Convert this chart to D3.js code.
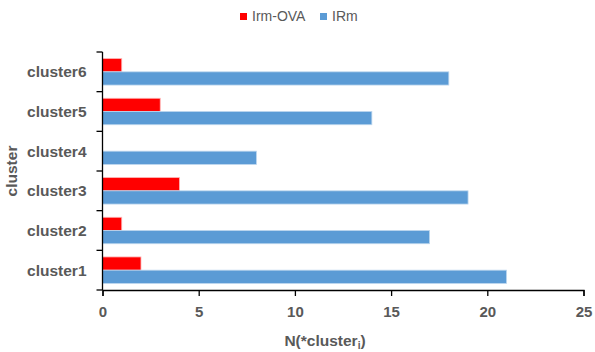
<!DOCTYPE html>
<html>
<head>
<meta charset="utf-8">
<script src="https://cdn.jsdelivr.net/npm/d3@7"></script>
<style>
  html, body { margin: 0; padding: 0; background: #fff; }
  svg text { font-family: "Liberation Sans", Arial, sans-serif; fill: #595959; }
</style>
</head>
<body>
<svg id="chart" width="595" height="352"></svg>
<script>
// Cluster counts per group
const categories = ["cluster1", "cluster2", "cluster3", "cluster4", "cluster5", "cluster6"];
const seriesNames = ["Irm-OVA", "IRm"];
const irmOva = [2, 1, 4, 0, 3, 1];
const irm = [21, 17, 19, 8, 14, 18];
const xTicks = [0, 5, 10, 15, 20, 25];
const colors = ["#FF0000", "#5B9BD5"];

const svg = d3.select("#chart");
const margin = { left: 102.5, right: 11.5, top: 52, bottom: 62 };
const W = 595, H = 352;

const x = d3.scaleLinear().domain([0, 25]).range([margin.left, W - margin.right]);
// cluster1 at the bottom
const y = d3.scaleBand().domain(categories.slice().reverse()).range([margin.top, H - margin.bottom]).paddingInner(0).paddingOuter(0);
const inner = d3.scaleBand().domain(seriesNames).range([0, y.bandwidth()]).paddingInner(0).paddingOuter(0.5);

const rows = categories.map((c, i) => ({ cat: c, vals: [irmOva[i], irm[i]] }));

const g = svg.append("g");
const groups = g.selectAll("g.row").data(rows).join("g")
  .attr("transform", d => `translate(0,${y(d.cat)})`);

groups.selectAll("rect").data(d => d.vals.map((v, k) => ({ v, k })))
  .join("rect")
  .attr("x", x(0))
  .attr("y", d => inner(seriesNames[d.k]))
  .attr("width", d => x(d.v) - x(0))
  .attr("height", inner.bandwidth())
  .attr("fill", d => colors[d.k])
  .attr("stroke", d => d.k === 0 ? "#ffb3b3" : "#bcd6ee")
  .attr("stroke-width", 0.8)
  .attr("display", d => d.v === 0 ? "none" : null);

// x axis
const xAxis = svg.append("g")
  .attr("transform", `translate(0,${H - margin.bottom})`)
  .call(d3.axisBottom(x).tickValues(xTicks).tickSize(6).tickPadding(10));
xAxis.select(".domain").attr("stroke", "#000").attr("stroke-width", 1.3);
xAxis.selectAll(".tick line").attr("stroke", "#000").attr("stroke-width", 1.3);
xAxis.selectAll(".tick text")
  .attr("fill", "#595959")
  .style("font-size", "15px").style("font-weight", "bold")
  .style("font-family", "'Liberation Sans', Arial, sans-serif");

// y axis: ticks sit on band boundaries
const yAxis = svg.append("g").attr("transform", `translate(${margin.left},0)`);
const bounds = categories.map(c => y(c)).concat([H - margin.bottom]);
yAxis.append("line")
  .attr("x1", 0).attr("x2", 0)
  .attr("y1", margin.top).attr("y2", H - margin.bottom)
  .attr("stroke", "#000").attr("stroke-width", 1.3);
yAxis.selectAll("line.tk").data(bounds).join("line")
  .attr("class", "tk")
  .attr("x1", -6).attr("x2", 0)
  .attr("y1", d => d).attr("y2", d => d)
  .attr("stroke", "#000").attr("stroke-width", 1.3);
yAxis.selectAll("text").data(categories).join("text")
  .attr("x", -16)
  .attr("y", d => y(d) + y.bandwidth() / 2)
  .attr("dy", "0.35em")
  .attr("text-anchor", "end")
  .style("font-size", "15.5px").style("font-weight", "bold")
  .text(d => d);

// axis titles
const xt = svg.append("text")
  .attr("x", 325).attr("y", 346)
  .attr("text-anchor", "middle")
  .style("font-size", "15.5px").style("font-weight", "bold");
xt.append("tspan").text("N(*cluster");
xt.append("tspan").attr("dy", 3).style("font-size", "10px").text("i");
xt.append("tspan").attr("dy", -3).text(")");

svg.append("text")
  .attr("transform", `translate(17,171) rotate(-90)`)
  .attr("text-anchor", "middle")
  .style("font-size", "15.5px").style("font-weight", "bold")
  .text("cluster");

// legend
const legend = svg.append("g");
const legendItems = [
  { name: seriesNames[0], color: colors[0], x: 240 },
  { name: seriesNames[1], color: colors[1], x: 320 }
];
const li = legend.selectAll("g").data(legendItems).join("g")
  .attr("transform", d => `translate(${d.x},13)`);
li.append("rect").attr("width", 7).attr("height", 7).attr("fill", d => d.color);
li.append("text").attr("x", 12).attr("y", 3.5).attr("dy", "0.35em")
  .style("font-size", "14px").text(d => d.name);
</script>
</body>
</html>
